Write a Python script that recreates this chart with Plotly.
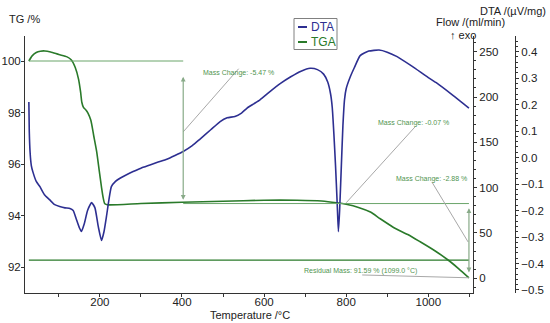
import plotly.graph_objects as go

# ---------------- data ----------------
tga_temp = [27, 35, 45, 55, 66, 80, 100, 120, 130, 140, 148, 153, 156, 160, 166, 171, 178, 185,
            192, 198, 204, 208, 212, 220, 300, 400, 500, 600, 680, 740, 777, 800, 830, 859,
            883, 920, 950, 980, 1015, 1049, 1075, 1099]
tga_values = [100.0, 100.2, 100.33, 100.38, 100.39, 100.35, 100.25, 100.16, 100.05, 99.75, 99.3,
              98.8, 98.4, 98.2, 98.1, 97.98, 97.7, 97.1, 96.5, 95.8, 95.1, 94.7, 94.46, 94.42,
              94.47, 94.52, 94.56, 94.6, 94.6, 94.57, 94.5, 94.44, 94.32, 94.14, 93.88, 93.5,
              93.27, 92.99, 92.65, 92.27, 91.93, 91.59]

dta_temp = [27, 28, 30, 33, 37, 45, 54, 65, 78, 90, 102, 115, 127, 135, 142, 150, 155, 162, 170,
            180, 188, 196, 204, 210, 216, 222, 228, 238, 249, 265, 281, 300, 322, 342, 363, 383,
            403, 425, 444, 470, 493, 510, 529, 545, 558, 575, 590, 615, 640, 665, 690, 712, 730,
            745, 755, 762, 766, 770, 774, 778, 781, 784, 788, 792, 796, 800, 810, 820, 834, 855,
            880, 900, 924, 960, 1000, 1021, 1060, 1099]
dta_values = [0.21, 0.10, 0.02, -0.03, -0.055, -0.09, -0.11, -0.14, -0.16, -0.178, -0.185, -0.19,
              -0.192, -0.20, -0.23, -0.265, -0.279, -0.25, -0.20, -0.17, -0.19, -0.26, -0.313,
              -0.28, -0.223, -0.16, -0.11, -0.09, -0.078, -0.065, -0.053, -0.04, -0.028, -0.017,
              -0.006, 0.008, 0.023, 0.045, 0.07, 0.105, 0.136, 0.15, 0.155, 0.168, 0.186, 0.203,
              0.218, 0.25, 0.28, 0.305, 0.326, 0.337, 0.332, 0.315, 0.285, 0.24, 0.19, 0.09,
              -0.03, -0.17, -0.28, -0.2, -0.04, 0.12, 0.22, 0.26, 0.305, 0.34, 0.385, 0.402,
              0.406, 0.398, 0.381, 0.345, 0.302, 0.281, 0.235, 0.187]

flow_temp = [27, 1099]
flow_values = [20, 20]

x_ticks = [200, 400, 600, 800, 1000]
tg_ticks = [92, 94, 96, 98, 100]
flow_ticks = [0, 50, 100, 150, 200, 250]
dta_ticks = [-0.5, -0.4, -0.3, -0.2, -0.1, 0.0, 0.1, 0.2, 0.3, 0.4]

# mass-change evaluation (TG %)
step1_start, step1_end, step1_temp = 100.0, 94.53, 403
step2_level, step2_temp = 94.47, 800
residual_mass, residual_temp = 91.59, 1099
mc_labels = ["Mass Change: -5.47 %", "Mass Change: -0.07 %", "Mass Change: -2.88 %"]
residual_label = "Residual Mass: 91.59 % (1099.0 °C)"

# ---------------- styling ----------------
BLUE = "#2d2f91"
GREEN = "#2a7a2a"
LGREEN = "#6aa56a"
TXTGREEN = "#4f944f"
GREY = "#a8a8a8"
FONT = "Arial, Liberation Sans, sans-serif"

W, H = 550, 323
x0px, x1px, y0px, y1px = 25, 473, 36, 293

fig = go.Figure()
fig.add_trace(go.Scatter(x=flow_temp, y=flow_values, yaxis="y2", mode="lines",
                         line=dict(color=GREEN, width=1.3), showlegend=False, name="Flow"))
fig.add_trace(go.Scatter(x=tga_temp, y=tga_values, mode="lines", name="TGA",
                         line=dict(color=GREEN, width=1.6, shape="spline", smoothing=0.6),
                         showlegend=False))
fig.add_trace(go.Scatter(x=dta_temp, y=dta_values, yaxis="y3", mode="lines", name="DTA",
                         line=dict(color=BLUE, width=1.6, shape="spline", smoothing=0.5),
                         showlegend=False))

# mass change graphics
shapes = [
    dict(type="line", xref="x", yref="y", x0=tga_temp[0], x1=step1_temp,
         y0=step1_start, y1=step1_start, line=dict(color=LGREEN, width=1)),
    dict(type="line", xref="x", yref="y", x0=step1_temp, x1=residual_temp,
         y0=step2_level, y1=step2_level, line=dict(color=LGREEN, width=1)),
    dict(type="line", xref="x", yref="y", x0=step1_temp, x1=538,
         y0=97.25, y1=99.7, line=dict(color=GREY, width=1)),
    dict(type="line", xref="x", yref="y", x0=step2_temp, x1=968,
         y0=94.5, y1=97.45, line=dict(color=GREY, width=1)),
    dict(type="line", xref="x", yref="y", x0=1009, x1=1097,
         y0=95.3, y1=92.98, line=dict(color=GREY, width=1)),
    dict(type="line", xref="x", yref="y", x0=839, x1=residual_temp,
         y0=91.70, y1=residual_mass, line=dict(color=GREY, width=1)),
]


def label(x, y, text, size, color, xanchor="center", xref="paper", yref="paper"):
    if xref == "paper":
        x = x / W
    if yref == "paper":
        y = 1 - y / H
    return dict(x=x, y=y, xref=xref, yref=yref, text=text, showarrow=False,
                xanchor=xanchor, yanchor="middle",
                font=dict(family=FONT, size=size, color=color))


annotations = [
    dict(x=step1_temp, y=94.62, ax=step1_temp, ay=99.45, xref="x", yref="y", axref="x", ayref="y",
         showarrow=True, arrowhead=2, arrowsize=0.8, arrowwidth=1.2, arrowside="end+start",
         arrowcolor="#88aa88", text=""),
    dict(x=residual_temp, y=91.8, ax=residual_temp, ay=94.35, xref="x", yref="y", axref="x",
         ayref="y", showarrow=True, arrowhead=2, arrowsize=0.8, arrowwidth=1.2,
         arrowside="end+start", arrowcolor="#88aa88", text=""),
    label(537, 99.53, mc_labels[0], 7, TXTGREEN, xref="x", yref="y"),
    label(963, 97.6, mc_labels[1], 7, TXTGREEN, xref="x", yref="y"),
    label(1009, 95.44, mc_labels[2], 7, TXTGREEN, xref="x", yref="y"),
    label(835, 91.86, residual_label, 7, TXTGREEN, xref="x", yref="y"),
    # axis titles
    label(24, 19, "TG /%", 11, "#222"),
    label(548, 11, "DTA /(µV/mg)", 11, "#222", xanchor="right"),
    label(507, 22, "Flow /(ml/min)", 11, "#222", xanchor="right"),
    label(478, 35, "↑ exo", 11, "#222", xanchor="right"),
    label(250, 315, "Temperature /°C", 11, "#222"),
    # legend
    label(309, 27, "DTA", 12, BLUE, xanchor="left"),
    label(309, 42, "TGA", 12, GREEN, xanchor="left"),
]

shapes += [
    dict(type="rect", xref="paper", yref="paper", x0=294 / W, x1=337 / W,
         y0=1 - 49.5 / H, y1=1 - 18.5 / H, line=dict(color="#808080", width=1),
         fillcolor="white", layer="above"),
    dict(type="line", xref="paper", yref="paper", x0=298 / W, x1=307 / W,
         y0=1 - 27 / H, y1=1 - 27 / H, line=dict(color=BLUE, width=2)),
    dict(type="line", xref="paper", yref="paper", x0=298 / W, x1=307 / W,
         y0=1 - 42 / H, y1=1 - 42 / H, line=dict(color=GREEN, width=2)),
]

axis_common = dict(showgrid=False, zeroline=False, showline=True, linecolor="#333",
                   linewidth=1, ticks="outside", tickcolor="#333", automargin=False,
                   tickfont=dict(family=FONT, size=11.5, color="#222"))

fig.update_layout(
    width=W, height=H, margin=dict(l=0, r=0, t=0, b=0, autoexpand=False),
    plot_bgcolor="white", paper_bgcolor="white", showlegend=False,
    xaxis=dict(domain=[x0px / W, x1px / W], range=[17.6, 1108.9], tickvals=x_ticks, ticklen=1,
               ticklabelstandoff=-3,
               minor=dict(ticks="outside", ticklen=3, dtick=100, tick0=0, tickcolor="#333"),
               **axis_common),
    yaxis=dict(domain=[1 - y1px / H, 1 - y0px / H], range=[91.0, 100.97], tickvals=tg_ticks,
               ticklen=3, ticklabelstandoff=-2, **axis_common),
    yaxis2=dict(overlaying="y", side="right", anchor="x", range=[-16.2, 267.3],
                tickvals=flow_ticks, ticklen=3,
                minor=dict(ticks="outside", ticklen=2, dtick=10, tick0=0, tickcolor="#333"),
                **axis_common),
    yaxis3=dict(overlaying="y", side="right", anchor="free", position=515 / W,
                range=[-0.5114, 0.459], tickvals=dta_ticks, tickformat=".1f", ticklen=3,
                minor=dict(ticks="outside", ticklen=2, dtick=0.02, tick0=0, tickcolor="#333"),
                **axis_common),
    shapes=shapes, annotations=annotations,
)

fig.write_html("out.html", config={"displayModeBar": False},
               post_script="document.body.style.margin='0';document.body.style.padding='0';")
